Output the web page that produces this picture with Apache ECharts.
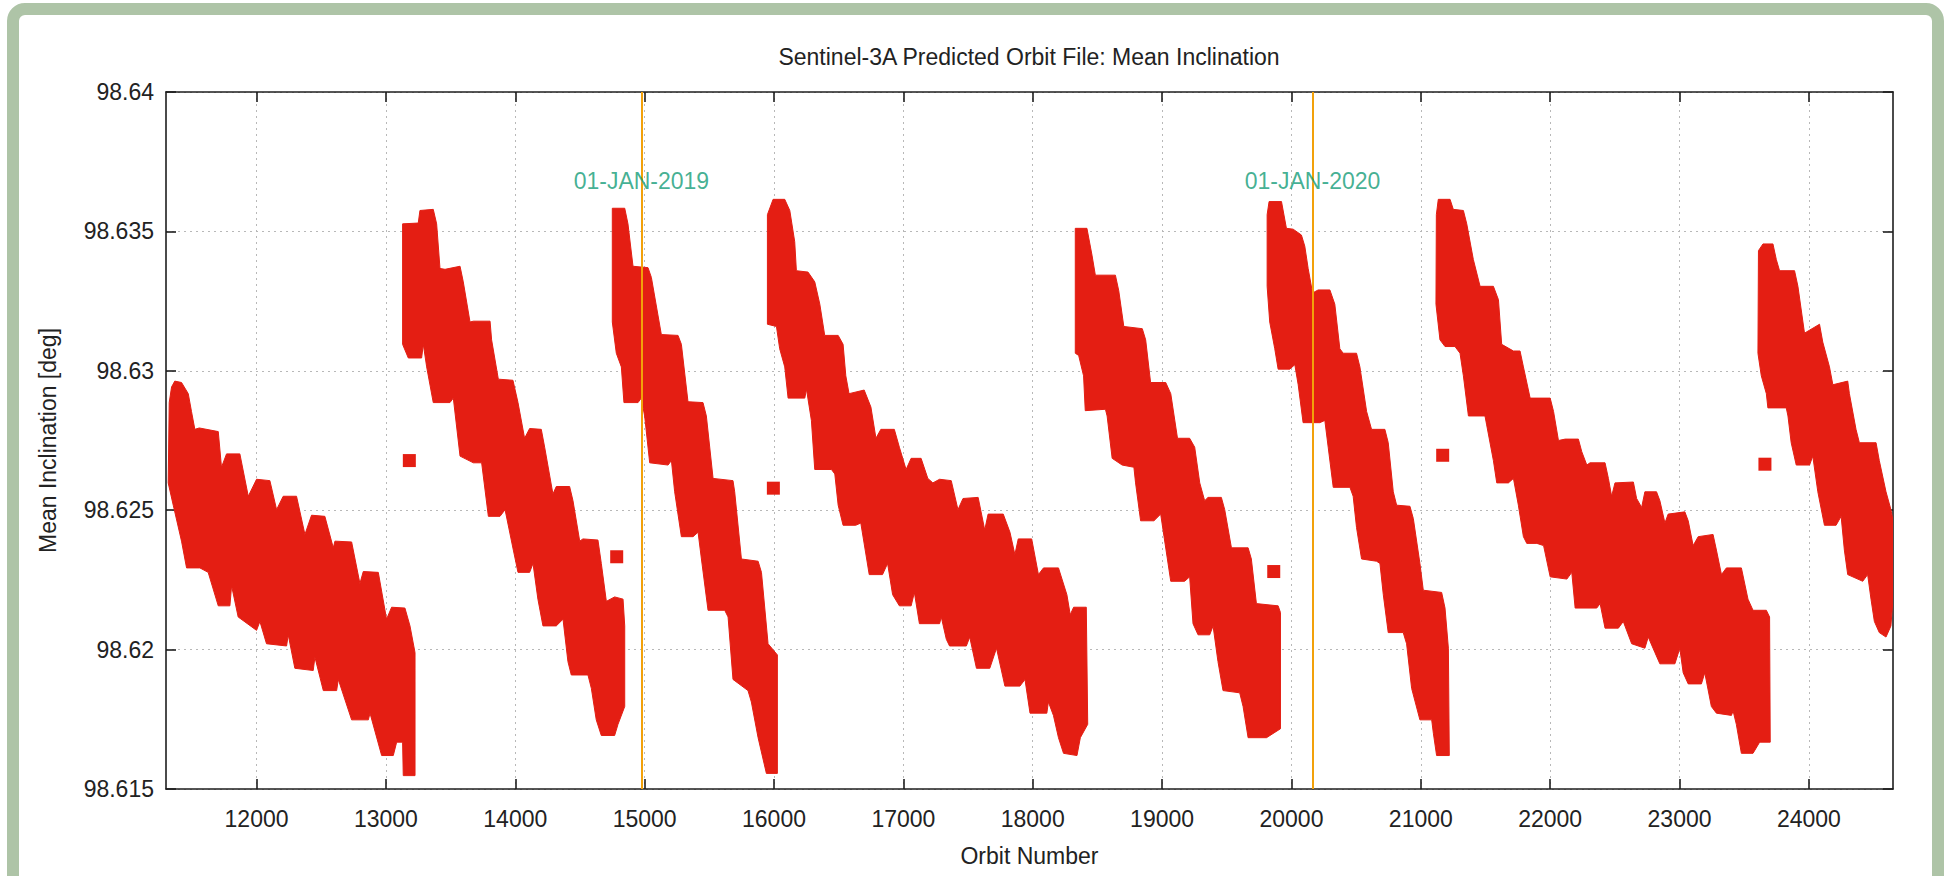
<!DOCTYPE html>
<html>
<head>
<meta charset="utf-8">
<script src="https://cdn.jsdelivr.net/npm/echarts@6/dist/echarts.min.js"></script>
<style>
html,body{margin:0;padding:0;background:#ffffff;}
#chart{width:1947px;height:876px;}
</style>
</head>
<body>
<div id="chart"></div>
<script>
// ---------------- data ----------------
const xTicks = [12000,13000,14000,15000,16000,17000,18000,19000,20000,21000,22000,23000,24000];
const yTicks = [98.615,98.62,98.625,98.63,98.635,98.64];
const dateNames = ['01-JAN-2019','01-JAN-2020'];
const dateOrbits = [14975,20163];
const dateLabelLevel = 98.63679;

// envelope of the dense per-orbit band, one pair of arrays per arc between manoeuvres
const segA_top = [[11317,98.62598],[11325,98.62886],[11343,98.62942],[11368,98.62963],[11420,98.62958],[11472,98.62918],[11497,98.62854],[11523,98.62790],[11557,98.62795],[11704,98.62782],[11729,98.62654],[11768,98.62702],[11871,98.62702],[11936,98.62550],[12000,98.62611],[12103,98.62606],[12155,98.62502],[12206,98.62550],[12309,98.62550],[12374,98.62413],[12425,98.62482],[12528,98.62478],[12593,98.62365],[12606,98.62389],[12735,98.62386],[12799,98.62237],[12825,98.62280],[12941,98.62277],[13005,98.62109],[13044,98.62152],[13147,98.62149],[13186,98.62085],[13225,98.61989]];
const segA_bottom = [[11317,98.62598],[11356,98.62518],[11420,98.62389],[11459,98.62293],[11562,98.62293],[11626,98.62277],[11704,98.62157],[11794,98.62157],[11807,98.62229],[11858,98.62117],[12000,98.62069],[12026,98.62101],[12077,98.62021],[12232,98.62013],[12245,98.62053],[12296,98.61933],[12438,98.61925],[12451,98.61973],[12516,98.61853],[12619,98.61853],[12632,98.61893],[12735,98.61748],[12864,98.61748],[12877,98.61772],[12967,98.61620],[13057,98.61620],[13083,98.61668],[13129,98.61668],[13134,98.61548],[13225,98.61548]];

const segB_top = [[13129,98.63527],[13250,98.63530],[13263,98.63575],[13366,98.63579],[13392,98.63527],[13418,98.63367],[13457,98.63364],[13573,98.63375],[13598,98.63319],[13650,98.63175],[13676,98.63178],[13805,98.63178],[13817,98.63111],[13869,98.62970],[13982,98.62966],[14021,98.62886],[14072,98.62758],[14111,98.62793],[14201,98.62790],[14227,98.62726],[14291,98.62558],[14317,98.62585],[14420,98.62585],[14446,98.62534],[14498,98.62389],[14523,98.62397],[14639,98.62393],[14665,98.62309],[14704,98.62173],[14768,98.62189],[14833,98.62181],[14846,98.62085],[14846,98.61796],[14794,98.61732]];
const segB_bottom = [[13129,98.63527],[13129,98.63095],[13173,98.63046],[13276,98.63046],[13289,98.63095],[13315,98.63014],[13366,98.62886],[13495,98.62886],[13521,98.62902],[13573,98.62694],[13676,98.62670],[13740,98.62670],[13792,98.62478],[13882,98.62478],[13921,98.62502],[13985,98.62357],[14021,98.62277],[14111,98.62277],[14137,98.62309],[14175,98.62181],[14214,98.62085],[14317,98.62085],[14369,98.62109],[14407,98.61957],[14433,98.61909],[14562,98.61909],[14588,98.61861],[14626,98.61748],[14665,98.61692],[14768,98.61692]];

const segC_top = [[14750,98.63583],[14846,98.63583],[14871,98.63527],[14910,98.63375],[15026,98.63370],[15052,98.63335],[15129,98.63130],[15258,98.63127],[15284,98.63095],[15335,98.62889],[15451,98.62886],[15477,98.62838],[15529,98.62614],[15683,98.62606],[15696,98.62566],[15748,98.62325],[15877,98.62317],[15903,98.62277],[15954,98.62021],[16026,98.61981]];
const segC_bottom = [[14750,98.63583],[14750,98.63175],[14781,98.63063],[14820,98.63014],[14840,98.62886],[14949,98.62886],[14974,98.62902],[15000,98.62838],[15039,98.62670],[15181,98.62662],[15207,98.62678],[15232,98.62566],[15284,98.62405],[15374,98.62405],[15413,98.62421],[15439,98.62325],[15490,98.62141],[15619,98.62141],[15645,98.62117],[15683,98.61893],[15799,98.61853],[15825,98.61812],[15877,98.61684],[15941,98.61556],[16026,98.61556]];

const segD_top = [[15949,98.63560],[15993,98.63615],[16083,98.63615],[16122,98.63575],[16160,98.63463],[16173,98.63359],[16263,98.63354],[16315,98.63319],[16354,98.63239],[16392,98.63127],[16496,98.63127],[16534,98.63095],[16555,98.62982],[16580,98.62918],[16697,98.62931],[16749,98.62870],[16788,98.62758],[16826,98.62790],[16930,98.62790],[16969,98.62726],[17021,98.62646],[17060,98.62686],[17137,98.62686],[17189,98.62614],[17228,98.62598],[17280,98.62611],[17370,98.62606],[17422,98.62502],[17461,98.62542],[17578,98.62546],[17629,98.62429],[17655,98.62486],[17772,98.62486],[17824,98.62421],[17862,98.62341],[17888,98.62397],[17992,98.62397],[18044,98.62269],[18083,98.62293],[18199,98.62293],[18264,98.62197],[18290,98.62125],[18316,98.62152],[18414,98.62152],[18425,98.61732],[18368,98.61684]];
const segD_bottom = [[15949,98.63560],[15949,98.63167],[16019,98.63159],[16044,98.63079],[16083,98.63014],[16109,98.62902],[16238,98.62902],[16251,98.62934],[16289,98.62822],[16315,98.62646],[16444,98.62646],[16470,98.62630],[16496,98.62518],[16534,98.62446],[16632,98.62446],[16671,98.62454],[16736,98.62269],[16839,98.62269],[16878,98.62309],[16917,98.62197],[16969,98.62157],[17060,98.62157],[17085,98.62205],[17124,98.62093],[17280,98.62093],[17293,98.62117],[17332,98.62037],[17357,98.62013],[17487,98.62013],[17513,98.62045],[17565,98.61933],[17668,98.61933],[17720,98.62005],[17785,98.61869],[17901,98.61869],[17940,98.61893],[17979,98.61772],[18109,98.61772],[18121,98.61812],[18160,98.61764],[18199,98.61684],[18238,98.61628],[18342,98.61620]];

const segE_top = [[18329,98.63511],[18419,98.63511],[18458,98.63415],[18484,98.63343],[18639,98.63343],[18665,98.63287],[18704,98.63159],[18847,98.63151],[18873,98.63111],[18911,98.62958],[19028,98.62958],[19067,98.62918],[19119,98.62758],[19213,98.62758],[19252,98.62726],[19291,98.62598],[19329,98.62534],[19355,98.62546],[19458,98.62546],[19484,98.62502],[19536,98.62365],[19665,98.62365],[19690,98.62325],[19729,98.62165],[19897,98.62157],[19915,98.62133],[19915,98.61716]];
const segE_bottom = [[18329,98.63511],[18329,98.63063],[18355,98.63055],[18393,98.62982],[18406,98.62857],[18562,98.62862],[18575,98.62838],[18614,98.62686],[18691,98.62662],[18782,98.62654],[18795,98.62598],[18834,98.62462],[18937,98.62462],[18989,98.62486],[19015,98.62405],[19067,98.62245],[19174,98.62245],[19213,98.62261],[19239,98.62093],[19278,98.62053],[19368,98.62053],[19394,98.62085],[19432,98.61957],[19471,98.61853],[19600,98.61845],[19626,98.61796],[19665,98.61684],[19807,98.61684]];

const segF_top = [[19812,98.63560],[19827,98.63607],[19923,98.63607],[19961,98.63511],[20013,98.63508],[20077,98.63487],[20103,98.63447],[20129,98.63367],[20163,98.63279],[20206,98.63290],[20297,98.63290],[20335,98.63239],[20374,98.63079],[20400,98.63063],[20503,98.63063],[20529,98.63014],[20581,98.62854],[20619,98.62790],[20722,98.62790],[20748,98.62742],[20787,98.62566],[20813,98.62518],[20916,98.62514],[20942,98.62470],[20993,98.62309],[21019,98.62213],[21161,98.62205],[21187,98.62149],[21213,98.62005]];
const segF_bottom = [[19812,98.63560],[19812,98.63303],[19832,98.63175],[19871,98.63079],[19897,98.63006],[19987,98.63006],[20026,98.63022],[20052,98.62950],[20090,98.62814],[20219,98.62814],[20258,98.62822],[20284,98.62726],[20323,98.62582],[20452,98.62582],[20477,98.62550],[20503,98.62438],[20542,98.62325],[20658,98.62317],[20684,98.62309],[20710,98.62197],[20748,98.62061],[20864,98.62061],[20890,98.62021],[20929,98.61861],[20993,98.61748],[21084,98.61748],[21097,98.61700],[21122,98.61620],[21220,98.61620]];

const segG_top = [[21120,98.63560],[21135,98.63615],[21226,98.63615],[21251,98.63579],[21329,98.63575],[21355,98.63527],[21406,98.63399],[21458,98.63303],[21561,98.63303],[21600,98.63255],[21625,98.63095],[21716,98.63071],[21767,98.63071],[21793,98.63014],[21845,98.62902],[22000,98.62902],[22026,98.62854],[22064,98.62750],[22116,98.62755],[22218,98.62755],[22244,98.62710],[22283,98.62662],[22308,98.62670],[22424,98.62670],[22450,98.62614],[22475,98.62550],[22501,98.62598],[22643,98.62601],[22668,98.62542],[22707,98.62510],[22732,98.62566],[22822,98.62566],[22848,98.62534],[22887,98.62454],[22912,98.62486],[23041,98.62494],[23067,98.62462],[23105,98.62373],[23144,98.62405],[23259,98.62413],[23285,98.62357],[23324,98.62269],[23362,98.62293],[23478,98.62293],[23529,98.62181],[23568,98.62141],[23671,98.62141],[23696,98.62117]];
const segG_bottom = [[21120,98.63560],[21117,98.63239],[21148,98.63111],[21187,98.63087],[21264,98.63087],[21303,98.63063],[21329,98.62982],[21368,98.62838],[21496,98.62838],[21509,98.62806],[21561,98.62678],[21587,98.62598],[21677,98.62598],[21716,98.62614],[21754,98.62518],[21793,98.62405],[21819,98.62381],[21897,98.62381],[21949,98.62373],[22000,98.62261],[22129,98.62253],[22167,98.62277],[22193,98.62149],[22360,98.62149],[22386,98.62165],[22424,98.62077],[22527,98.62077],[22565,98.62101],[22630,98.62021],[22732,98.62005],[22758,98.62045],[22810,98.61989],[22848,98.61949],[22964,98.61949],[23002,98.62005],[23028,98.61917],[23067,98.61877],[23169,98.61877],[23195,98.61917],[23246,98.61796],[23285,98.61772],[23401,98.61764],[23414,98.61780],[23439,98.61732],[23478,98.61628],[23568,98.61628],[23619,98.61668],[23701,98.61668]];

const segH_top = [[23610,98.63431],[23645,98.63455],[23722,98.63455],[23748,98.63399],[23773,98.63359],[23889,98.63359],[23915,98.63303],[23966,98.63135],[24082,98.63167],[24107,98.63103],[24159,98.63014],[24185,98.62950],[24300,98.62963],[24313,98.62918],[24364,98.62790],[24390,98.62742],[24519,98.62742],[24544,98.62678],[24596,98.62566],[24634,98.62502],[24660,98.62438]];
const segH_bottom = [[23610,98.63431],[23606,98.63063],[23632,98.62982],[23671,98.62918],[23683,98.62867],[23825,98.62867],[23838,98.62838],[23863,98.62742],[23902,98.62662],[24005,98.62662],[24030,98.62694],[24069,98.62566],[24120,98.62446],[24210,98.62446],[24249,98.62478],[24274,98.62357],[24300,98.62269],[24416,98.62245],[24454,98.62269],[24480,98.62181],[24506,98.62101],[24544,98.62061],[24596,98.62045],[24634,98.62085],[24660,98.62245]];

// isolated single orbits (one per manoeuvre)
const isolatedPoints = [[13181,98.62678],[14784,98.62333],[15995,98.62579],[19863,98.62280],[21169,98.62697],[23660,98.62665]];

// ---------------- chart ----------------
const SEGMENTS = [
  {top: segA_top, bottom: segA_bottom},
  {top: segB_top, bottom: segB_bottom},
  {top: segC_top, bottom: segC_bottom},
  {top: segD_top, bottom: segD_bottom},
  {top: segE_top, bottom: segE_bottom},
  {top: segF_top, bottom: segF_bottom},
  {top: segG_top, bottom: segG_bottom},
  {top: segH_top, bottom: segH_bottom}
];

const RED = '#e41e13';
const FONT = "'Liberation Sans', Helvetica, Arial, sans-serif";
const INK = '#222222';
const FS = 23;
const frameLine = {color: '#1e1e1e', width: 1.6};
const gridLine = {color: '#b8b8b8', width: 1, type: [2, 4]};

const chart = echarts.init(document.getElementById('chart'), null, {renderer: 'svg'});

const option = {
  animation: false,
  backgroundColor: '#ffffff',
  grid: {left: 166, right: 54, top: 92, bottom: 87, containLabel: false, outerBoundsMode: 'none'},
  graphic: [
    {type: 'rect', silent: true, z: 100,
     shape: {x: 13, y: 9, width: 1925, height: 900, r: 12},
     style: {fill: 'none', stroke: '#aec4a7', lineWidth: 12}},
    {type: 'text', silent: true, x: 1029, y: 57,
     style: {text: 'Sentinel-3A Predicted Orbit File: Mean Inclination', align: 'center', verticalAlign: 'middle',
             fontSize: FS, fontFamily: FONT, fill: INK}}
  ],
  xAxis: [
    {type: 'value', position: 'bottom', min: 11300, max: 24650,
     axisLine: {show: true, onZero: false, lineStyle: frameLine},
     axisTick: {show: true, inside: true, length: 10, customValues: xTicks, lineStyle: frameLine},
     axisLabel: {show: true, customValues: xTicks, margin: 18, fontSize: FS, fontFamily: FONT, color: INK,
                 formatter: v => String(v)},
     splitLine: {show: true, lineStyle: gridLine},
     name: 'Orbit Number', nameLocation: 'middle', nameGap: 55,
     nameTextStyle: {fontSize: FS, fontFamily: FONT, color: INK}},
    {type: 'value', position: 'top', min: 11300, max: 24650,
     axisLine: {show: true, onZero: false, lineStyle: frameLine},
     axisTick: {show: true, inside: true, length: 10, customValues: xTicks, lineStyle: frameLine},
     axisLabel: {show: false},
     splitLine: {show: false}}
  ],
  yAxis: [
    {type: 'value', position: 'left', min: yTicks[0], max: yTicks[yTicks.length - 1], interval: 0.005,
     axisLine: {show: true, onZero: false, lineStyle: frameLine},
     axisTick: {show: true, inside: true, length: 10, lineStyle: frameLine},
     axisLabel: {show: true, margin: 12, fontSize: FS, fontFamily: FONT, color: INK, padding: [8, 0, 0, 0],
                 formatter: v => String(+(+v).toFixed(3))},
     splitLine: {show: true, lineStyle: gridLine},
     name: 'Mean Inclination [deg]', nameLocation: 'middle', nameGap: 107,
     nameTextStyle: {fontSize: FS, fontFamily: FONT, color: INK}},
    {type: 'value', position: 'right', min: yTicks[0], max: yTicks[yTicks.length - 1], interval: 0.005,
     axisLine: {show: true, onZero: false, lineStyle: frameLine},
     axisTick: {show: true, inside: true, length: 10, lineStyle: frameLine},
     axisLabel: {show: false},
     splitLine: {show: false}}
  ],
  series: [
    {
      type: 'custom', name: 'band', xAxisIndex: 0, yAxisIndex: 0, clip: true, z: 2, silent: true,
      data: SEGMENTS.map(s => s.top[0]),
      renderItem: function (params, api) {
        const seg = SEGMENTS[params.dataIndex];
        const pts = seg.top.concat(seg.bottom.slice().reverse()).map(p => api.coord(p));
        return {type: 'polygon', shape: {points: pts},
                style: {fill: RED, stroke: RED, lineWidth: 1, lineJoin: 'round'}};
      }
    },
    {
      type: 'scatter', name: 'single', xAxisIndex: 0, yAxisIndex: 0, z: 3, silent: true,
      symbol: 'rect', symbolSize: 13, itemStyle: {color: RED, opacity: 1},
      data: isolatedPoints
    },
    {
      type: 'scatter', name: 'dates', xAxisIndex: 0, yAxisIndex: 0, z: 5, silent: true,
      symbolSize: 0,
      data: dateOrbits.map(o => [o, dateLabelLevel]),
      label: {show: true, position: 'inside', formatter: p => dateNames[p.dataIndex],
              fontSize: FS, fontFamily: FONT, color: '#139c77'},
      markLine: {
        silent: true, symbol: ['none', 'none'], animation: false,
        label: {show: false},
        lineStyle: {color: '#f2a10a', width: 2, type: 'solid'},
        emphasis: {disabled: true},
        data: dateOrbits.map(o => ({xAxis: o}))
      }
    }
  ]
};
chart.setOption(option);
</script>
</body>
</html>
